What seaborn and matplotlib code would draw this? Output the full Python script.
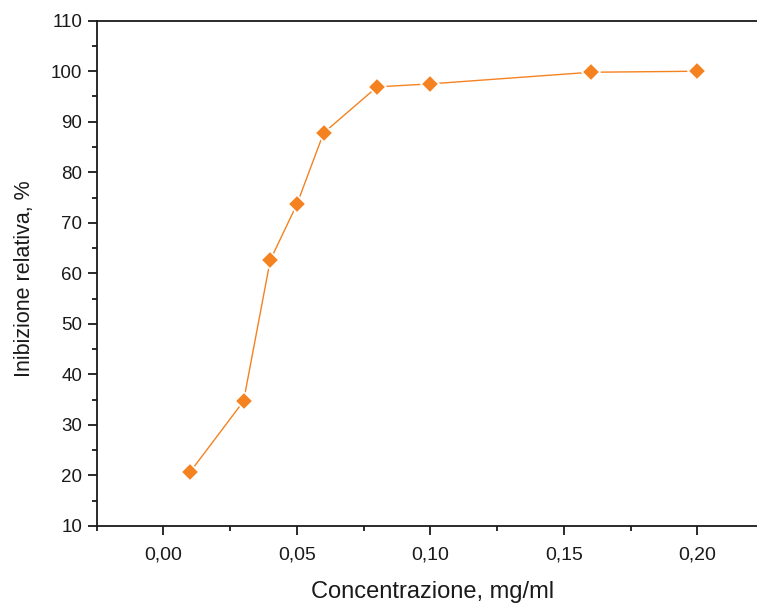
import matplotlib
matplotlib.use("Agg")
import matplotlib.pyplot as plt
import seaborn as sns
import pandas as pd
from matplotlib.ticker import FuncFormatter, MultipleLocator

conc = [0.01, 0.03, 0.04, 0.05, 0.06, 0.08, 0.10, 0.16, 0.20]
inhib = [20.7, 34.7, 62.6, 73.7, 87.8, 96.9, 97.5, 99.8, 100.0]
xlabel = "Concentrazione, mg/ml"
ylabel = "Inibizione relativa, %"

df = pd.DataFrame({"c": conc, "i": inhib})

sns.set_style("ticks")
plt.rcParams['font.family'] = ['Liberation Sans', 'DejaVu Sans']

fig = plt.figure(figsize=(7.57, 6.05), dpi=100)
W, H = 757, 605
ax = fig.add_axes([96.7 / W, 1 - 526 / H, (757 - 96.7) / W, (526 - 20.7) / H])

color = "#F58220"
sns.lineplot(data=df, x="c", y="i", ax=ax, color=color, linewidth=1.0,
             marker="D", markersize=9, markeredgecolor="white", markeredgewidth=1.2)

ax.set_xlim(-0.025, 0.2223)
ax.set_ylim(10, 110)
ax.xaxis.set_major_locator(MultipleLocator(0.05))
ax.xaxis.set_minor_locator(MultipleLocator(0.025))
ax.yaxis.set_major_locator(MultipleLocator(10))
ax.yaxis.set_minor_locator(MultipleLocator(5))
ax.xaxis.set_major_formatter(FuncFormatter(lambda v, p: f"{v:.2f}".replace(".", ",")))
ax.yaxis.set_major_formatter(FuncFormatter(lambda v, p: f"{v:.0f}"))

dark = "#1a1a1a"
for s in ["left", "bottom", "top"]:
    ax.spines[s].set_linewidth(1.3)
    ax.spines[s].set_color(dark)
ax.spines["right"].set_visible(False)

ax.tick_params(which="major", direction="out", length=6.5, width=1.3, colors=dark,
               labelcolor=dark, pad=4)
ax.tick_params(axis="y", which="major", labelsize=13.5)
ax.tick_params(axis="x", which="major", labelsize=14, pad=8)
ax.tick_params(which="minor", direction="out", length=3.5, width=1.3, colors=dark)

ax.set_xlabel(xlabel, fontsize=17, color=dark)
ax.set_ylabel(ylabel, fontsize=15.5, color=dark)
ax.xaxis.set_label_coords(0.508, -0.1306)
ax.xaxis.label.set_va("center")
ax.yaxis.set_label_coords(-0.110, 0.489)
ax.yaxis.label.set_va("center")
ax.yaxis.label.set_ha("center")

fig.savefig("out.png", dpi=100)
